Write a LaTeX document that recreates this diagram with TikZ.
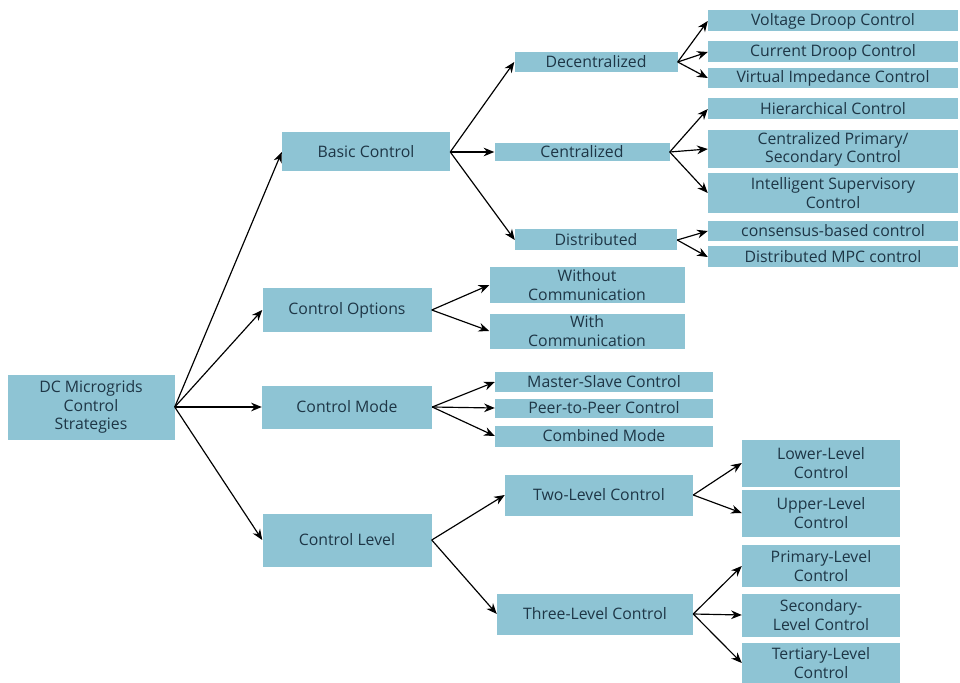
\documentclass[tikz,border=0pt]{standalone}
\usepackage{fontspec}
\setmainfont{Open Sans}
\usetikzlibrary{arrows.meta}
\definecolor{boxblue}{HTML}{8EC4D4}
\definecolor{ink}{HTML}{1E3646}
\tikzset{
  box/.style 2 args={fill=boxblue, text=ink, align=center, inner sep=0pt,
    minimum width={#1*0.03cm}, minimum height={#2*0.03cm},
    font=\fontsize{13.5}{15.5}\selectfont},
  link/.style={-{Stealth[length=3.2mm,width=2.6mm]}, line width=1pt, black}
}
\begin{document}
\begin{tikzpicture}[x=0.03cm, y=-0.03cm]
\useasboundingbox (0,0) rectangle (960,683);
% first level
\node[box={167}{65}] (root) at (91,407) {DC Microgrids\\Control\\Strategies};
\node[box={168}{39}] (basic) at (366,152) {Basic Control};
\node[box={169}{44}] (options) at (347,310) {Control Options};
\node[box={170}{43}] (mode) at (347,407) {Control Mode};
\node[box={169}{53}] (level) at (347,540) {Control Level};
% basic control
\node[box={163}{20}] (decen) at (596,62) {Decentralized};
\node[box={175}{18}] (cen) at (582,152) {Centralized};
\node[box={162}{21}] (dist) at (596,240) {Distributed};
\node[box={250}{21}] (voltage) at (833,21) {Voltage Droop Control};
\node[box={250}{21}] (current) at (833,52) {Current Droop Control};
\node[box={250}{20}] (virtual) at (833,78) {Virtual Impedance Control};
\node[box={250}{21}] (hier) at (833,109) {Hierarchical Control};
\node[box={250}{38}] (cprim) at (833,149) {Centralized Primary/\\Secondary Control};
\node[box={250}{40}] (intel) at (833,193) {Intelligent Supervisory\\Control};
\node[box={250}{20}] (consensus) at (833,231) {consensus-based control};
\node[box={250}{21}] (mpc) at (833,257) {Distributed MPC control};
% control options
\node[box={195}{36}] (without) at (587,285) {Without\\Communication};
\node[box={195}{35}] (with) at (587,331) {With\\Communication};
% control mode
\node[box={218}{20}] (master) at (604,382) {Master-Slave Control};
\node[box={218}{19}] (peer) at (604,408) {Peer-to-Peer Control};
\node[box={218}{21}] (combined) at (604,436) {Combined Mode};
% control level
\node[box={188}{41}] (two) at (599,495) {Two-Level Control};
\node[box={196}{41}] (three) at (595,614) {Three-Level Control};
\node[box={158}{47}] (lower) at (821,463) {Lower-Level\\Control};
\node[box={158}{47}] (upper) at (821,513) {Upper-Level\\Control};
\node[box={158}{42}] (primary) at (821,566) {Primary-Level\\Control};
\node[box={158}{43}] (secondary) at (821,615) {Secondary-\\Level Control};
\node[box={158}{40}] (tertiary) at (821,663) {Tertiary-Level\\Control};
% connectors
\foreach \a/\b in {root/basic, root/options, root/mode, root/level,
  basic/decen, basic/cen, basic/dist,
  decen/voltage, decen/current, decen/virtual,
  cen/hier, cen/cprim, cen/intel,
  dist/consensus, dist/mpc,
  options/without, options/with,
  mode/master, mode/peer, mode/combined,
  level/two, level/three,
  two/lower, two/upper,
  three/primary, three/secondary, three/tertiary}
  \draw[link] (\a.east) -- (\b.west);
\end{tikzpicture}
\end{document}
